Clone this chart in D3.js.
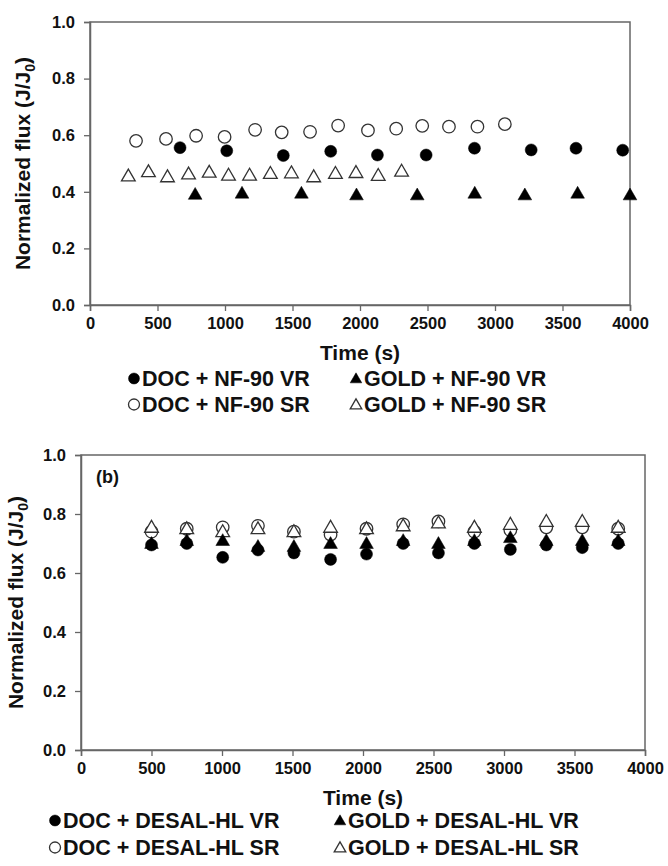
<!DOCTYPE html>
<html><head><meta charset="utf-8">
<script src="https://cdn.jsdelivr.net/npm/d3@7"></script>
<style>
body{margin:0;background:#fff}
text{font-family:"Liberation Sans",Arial,sans-serif;font-weight:bold;fill:#111}
</style>
</head><body>
<svg id="chart" width="668" height="866"></svg>
<script>
// ---------- DATA ----------
const xTickValues = [0, 500, 1000, 1500, 2000, 2500, 3000, 3500, 4000];
const yTickValues = [0.0, 0.2, 0.4, 0.6, 0.8, 1.0];

// Panel (a): NF-90
const nfDocVrTime = [667, 1013, 1432, 1783, 2129, 2490, 2848, 3268, 3600, 3946];
const nfDocVrFlux = [0.556, 0.545, 0.528, 0.543, 0.530, 0.530, 0.554, 0.548, 0.554, 0.547];
const nfGoldVrTime = [779, 1126, 1566, 1974, 2424, 2850, 3221, 3612, 4000];
const nfGoldVrFlux = [0.391, 0.395, 0.395, 0.389, 0.389, 0.395, 0.389, 0.395, 0.389];
const nfDocSrTime = [341, 563, 786, 997, 1223, 1420, 1630, 1838, 2059, 2268, 2461, 2659, 2870, 3073];
const nfDocSrFlux = [0.580, 0.587, 0.598, 0.594, 0.619, 0.610, 0.612, 0.634, 0.617, 0.623, 0.633, 0.630, 0.630, 0.639];
const nfGoldSrTime = [284, 433, 574, 730, 883, 1026, 1182, 1336, 1492, 1657, 1818, 1970, 2135, 2308];
const nfGoldSrFlux = [0.456, 0.471, 0.453, 0.463, 0.469, 0.459, 0.459, 0.465, 0.467, 0.453, 0.465, 0.468, 0.458, 0.473];

// Panel (b): DESAL-HL
const dsTime = [500, 750, 1005, 1255, 1510, 1770, 2025, 2285, 2535, 2790, 3045, 3300, 3555, 3810];
const dsDocVrFlux = [0.695, 0.700, 0.653, 0.678, 0.668, 0.646, 0.664, 0.700, 0.668, 0.700, 0.680, 0.695, 0.686, 0.700];
const dsGoldVrFlux = [0.700, 0.710, 0.710, 0.690, 0.690, 0.700, 0.700, 0.710, 0.700, 0.710, 0.720, 0.710, 0.710, 0.710];
const dsDocSrFlux = [0.740, 0.750, 0.755, 0.760, 0.740, 0.730, 0.750, 0.765, 0.775, 0.740, 0.745, 0.755, 0.755, 0.750];
const dsGoldSrFlux = [0.755, 0.750, 0.740, 0.750, 0.740, 0.755, 0.750, 0.760, 0.770, 0.755, 0.765, 0.775, 0.775, 0.755];

const legendA = ["DOC + NF-90 VR", "GOLD + NF-90 VR", "DOC + NF-90 SR", "GOLD + NF-90 SR"];
const legendB = ["DOC + DESAL-HL VR", "GOLD + DESAL-HL VR", "DOC + DESAL-HL SR", "GOLD + DESAL-HL SR"];

// ---------- DRAW ----------
const svg = d3.select("#chart");
const zip = (t, v) => t.map((d, i) => ({t: d, v: v[i]}));

function marker(g, kind, x, y, s) {
  const filled = kind === "fc" || kind === "ft";
  const tri = kind === "ft" || kind === "ot";
  const sym = d3.symbol().type(tri ? d3.symbolTriangle : d3.symbolCircle)
      .size(tri ? s * s * 0.48 : Math.PI * s * s / 4);
  g.append("path").attr("d", sym())
    .attr("transform", `translate(${x},${y + (tri ? 1 : 0)})`)
    .attr("fill", filled ? "#000" : "#fff")
    .attr("stroke", filled ? "#000" : "#333")
    .attr("stroke-width", filled ? 0.5 : 1.3);
}

function panel(cfg) {
  const x = d3.scaleLinear().domain([0, 4000]).range([cfg.x0, cfg.x1]);
  const y = d3.scaleLinear().domain([0, 1]).range([cfg.y1, cfg.y0]);
  const g = svg.append("g");

  g.append("rect").attr("x", cfg.x0).attr("y", cfg.y0)
    .attr("width", cfg.x1 - cfg.x0).attr("height", cfg.y1 - cfg.y0)
    .attr("fill", "none").attr("stroke", "#666").attr("stroke-width", 1.5);

  const xa = g.append("g").attr("transform", `translate(0,${cfg.y1})`)
    .call(d3.axisBottom(x).tickValues(xTickValues).tickSize(6).tickPadding(6).tickFormat(d3.format("d")));
  const ya = g.append("g").attr("transform", `translate(${cfg.x0},0)`)
    .call(d3.axisLeft(y).tickValues(yTickValues).tickSize(6).tickPadding(cfg.yPad).tickFormat(d3.format(".1f")));
  [xa, ya].forEach(a => {
    a.select(".domain").attr("stroke", "#666").attr("stroke-width", 1.5);
    a.selectAll(".tick line").attr("stroke", "#666").attr("stroke-width", 1.3);
    a.selectAll(".tick text").attr("font-size", 16.5).attr("font-family", '"Liberation Sans",Arial,sans-serif')
      .attr("font-weight", "bold").attr("fill", "#111");
  });

  g.append("text").attr("x", (cfg.x0 + cfg.x1) / 2).attr("y", cfg.y1 + 55)
    .attr("text-anchor", "middle").attr("font-size", 21).text("Time (s)");
  const yt = g.append("text")
    .attr("transform", `translate(${cfg.yTitleX},${(cfg.y0 + cfg.y1) / 2}) rotate(-90)`)
    .attr("text-anchor", "middle").attr("font-size", 21);
  yt.append("tspan").text("Normalized flux (J/J");
  yt.append("tspan").attr("font-size", 14).attr("dy", 5).text("0");
  yt.append("tspan").attr("dy", -5).text(")");

  if (cfg.tag) {
    g.append("text").attr("x", cfg.x0 + 15).attr("y", cfg.y0 + 28)
      .attr("font-size", 18).text(cfg.tag);
  }

  const pts = g.append("g");
  cfg.series.forEach(s => {
    zip(s.t, s.v).forEach(d => marker(pts, s.kind, x(d.t), y(d.v), s.size));
  });

  const lg = g.append("g");
  const kinds = ["fc", "ft", "oc", "ot"];
  cfg.legend.forEach((lab, i) => {
    const col = i % 2, row = Math.floor(i / 2);
    const lx = cfg.legX[col], ly = cfg.legY[row];
    marker(lg, kinds[i], lx, ly - 7.5, 11);
    lg.append("text").attr("x", lx + 8).attr("y", ly).attr("font-size", 21.5).text(lab);
  });
}

panel({
  x0: 90, x1: 630, y0: 22, y1: 305, yPad: 9, yTitleX: 30,
  series: [
    {kind: "oc", t: nfDocSrTime, v: nfDocSrFlux, size: 12.5},
    {kind: "ot", t: nfGoldSrTime, v: nfGoldSrFlux, size: 13},
    {kind: "fc", t: nfDocVrTime, v: nfDocVrFlux, size: 12},
    {kind: "ft", t: nfGoldVrTime, v: nfGoldVrFlux, size: 13}
  ],
  legend: legendA, legX: [134, 356], legY: [386, 412]
});

panel({
  x0: 81, x1: 645, y0: 455, y1: 750, yPad: 9, yTitleX: 23, tag: "(b)",
  series: [
    {kind: "oc", t: dsTime, v: dsDocSrFlux, size: 12.5},
    {kind: "ot", t: dsTime, v: dsGoldSrFlux, size: 13},
    {kind: "ft", t: dsTime, v: dsGoldVrFlux, size: 13},
    {kind: "fc", t: dsTime, v: dsDocVrFlux, size: 12}
  ],
  legend: legendB, legX: [55, 340], legY: [828, 855]
});
</script>
</body></html>
